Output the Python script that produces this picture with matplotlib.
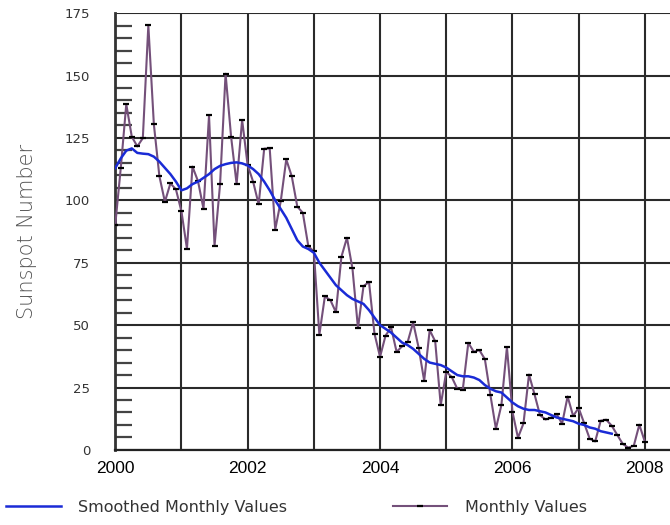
import numpy as np
import matplotlib
matplotlib.use("Agg")
import matplotlib.pyplot as plt
from matplotlib.ticker import MultipleLocator

# monthly sunspot numbers, Jan 2000 - Jan 2008
monthly = [
    90.1, 112.9, 138.5, 125.5, 121.6, 124.9, 170.1, 130.5, 109.7, 99.4, 106.8, 104.4,
    95.6, 80.6, 113.5, 107.7, 96.6, 134.0, 81.8, 106.4, 150.7, 125.5, 106.5, 132.2,
    114.1, 107.4, 98.4, 120.7, 120.8, 88.3, 99.6, 116.4, 109.6, 97.5, 95.0, 81.6,
    79.5, 46.2, 61.5, 60.0, 55.2, 77.4, 85.0, 72.7, 48.8, 65.6, 67.3, 46.5,
    37.3, 45.8, 49.1, 39.3, 41.5, 43.2, 51.1, 40.9, 27.7, 48.0, 43.5, 17.9,
    31.3, 29.2, 24.5, 24.2, 42.9, 39.3, 40.0, 36.4, 22.1, 8.5, 18.0, 41.2,
    15.3, 4.9, 10.6, 30.2, 22.3, 13.9, 12.2, 12.9, 14.4, 10.5, 21.4, 13.6,
    16.8, 10.7, 4.5, 3.4, 11.7, 12.1, 9.7, 6.0, 2.4, 0.9, 1.7, 10.1,
    3.3,
]

# smoothed monthly values, Jan 2000 - Jul 2007
smoothed = [
    112.9, 116.8, 119.9, 120.8, 119.0, 118.7, 118.5, 117.5, 115.5, 113.0, 110.5, 107.5,
    104.0, 104.8, 106.5, 107.5, 109.0, 110.5, 112.5, 113.8, 114.5, 115.0, 115.2, 114.8,
    114.0, 112.5, 110.5, 107.5, 104.0, 100.0, 96.5, 93.0, 88.5, 84.0, 81.5, 80.5,
    79.0, 75.0, 72.0, 69.0, 66.0, 64.0, 62.0, 60.5, 59.5, 58.5, 56.0, 53.0,
    50.0, 48.5, 47.0, 45.0, 43.0, 42.0, 40.5, 38.5, 36.5, 35.0, 34.5, 34.0,
    33.0, 31.5, 30.0, 29.5, 29.5, 29.0, 28.0, 26.0, 24.5, 23.5, 23.0, 21.0,
    19.0, 17.5, 16.5, 16.0, 16.0, 15.5, 15.0, 14.0, 13.0, 12.5, 12.0, 11.5,
    10.5, 10.0, 9.0, 8.5, 7.5, 7.0, 6.5,
]

year_ticks = [2000, 2002, 2004, 2006, 2008]
y_ticks = [0, 25, 50, 75, 100, 125, 150, 175]

t_monthly = 2000 + np.arange(len(monthly)) / 12
t_smoothed = 2000 + np.arange(len(smoothed)) / 12

fig = plt.figure(figsize=(6.7, 5.25), dpi=100)
ax = fig.add_axes([0.172, 0.143, 0.828, 0.832])

# grid
ax.set_xlim(2000, 2008.38)
ax.set_ylim(0, 175)
ax.xaxis.set_major_locator(MultipleLocator(1))
ax.yaxis.set_major_locator(MultipleLocator(25))
ax.yaxis.set_minor_locator(MultipleLocator(5))
ax.grid(True, which="major", color="#2a2a2a", lw=1.5)
ax.set_axisbelow(True)

ax.plot(t_monthly, monthly, color="#74507a", lw=1.5, marker="_", ms=5,
        mew=1.6, mec="black", label="Monthly Values", zorder=3)
ax.plot(t_smoothed, smoothed, color="#1a2bd6", lw=1.8, label="Smoothed Monthly Values",
        zorder=4)

for s in ["top", "right"]:
    ax.spines[s].set_visible(False)
ax.spines["left"].set_color("#333333")
ax.spines["left"].set_linewidth(2)
ax.spines["bottom"].set_color("#222222")
ax.spines["bottom"].set_linewidth(1.6)

ax.set_xticks(range(2000, 2009))
ax.set_xticklabels([str(y) if y in year_ticks else "" for y in range(2000, 2009)],
                   family="Liberation Sans", fontsize=12.5)
ax.set_yticks(y_ticks)
ax.set_yticklabels([str(v) for v in y_ticks], family="DejaVu Sans", fontsize=9.5,
                   color="#333333")
ax.tick_params(axis="x", length=0, pad=8)
ax.tick_params(axis="y", which="major", length=0, pad=18)
ax.tick_params(axis="y", which="minor", direction="in", length=12, width=1.6,
               color="#444444")

ax.set_ylabel("Sunspot Number", fontsize=15, color="#555555",
              family="DejaVu Sans", fontweight="light", labelpad=20)

handles, labels = ax.get_legend_handles_labels()
fig.legend(handles[::-1], labels[::-1], loc="lower left", bbox_to_anchor=(-0.012, -0.008),
           ncol=2, frameon=False, handlelength=3.4, handletextpad=1.1,
           columnspacing=6.6, prop={"family": "DejaVu Sans", "size": 11.5},
           labelcolor="#333333")

fig.savefig("out.png", dpi=100)
